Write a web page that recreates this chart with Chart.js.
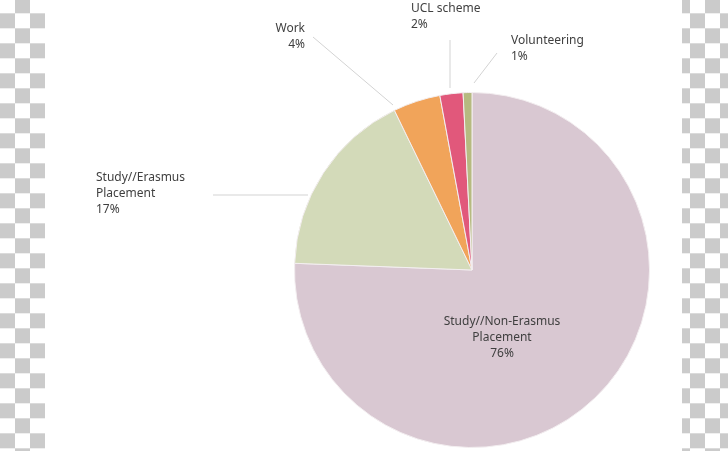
<!DOCTYPE html>
<html>
<head>
<meta charset="utf-8">
<script src="https://cdn.jsdelivr.net/npm/chart.js@4"></script>
<style>
  html, body { margin: 0; padding: 0; background: #fff; }
  #wrap { position: relative; width: 728px; height: 451px; overflow: hidden; }
  .checker {
    position: absolute; top: 0; height: 451px;
    background: repeating-conic-gradient(#cbcbcb 0 25%, #fff 0 50%);
    background-size: 30px 30px;
  }
  #left { left: 0; width: 45px; background-position: 0 -1.7px; }
  #right { left: 682px; width: 46px; background-position: -22px -1.7px; }
  canvas { position: absolute; left: 0; top: 0; }
</style>
</head>
<body>
<div id="wrap">
  <div class="checker" id="left"></div>
  <div class="checker" id="right"></div>
  <canvas id="pieChart" width="728" height="451"></canvas>
</div>
<script>
// datos del gráfico
const categories = ['Study//Non-Erasmus Placement', 'Study//Erasmus Placement', 'Work', 'UCL scheme', 'Volunteering'];
const shares = [75.6, 17.2, 4.3, 2.1, 0.8];
const labelLines = [['Study//Non-Erasmus', 'Placement'], ['Study//Erasmus', 'Placement'], ['Work'], ['UCL scheme'], ['Volunteering']];
const sliceColors = ['#d9c8d2', '#d3dab9', '#f1a45a', '#e1587b', '#b6ba80'];

// posiciones de etiquetas (estilo Tableau)
const labelLayout = [
    { x: 502, y: 322, align: 'center', line: null },
    { x: 96, y: 178, align: 'left', line: [213, 195, 308, 195] },
    { x: 305, y: 29, align: 'right', line: [313, 37, 393, 105] },
    { x: 411, y: 9, align: 'left', line: [450, 40, 450, 88] },
    { x: 511, y: 41, align: 'left', line: [497, 53, 474, 83] }
];

const labelPlugin = {
    id: 'pieLabels',
    afterDatasetsDraw(chart) {
        const ctx = chart.ctx;
        ctx.save();
        ctx.strokeStyle = '#d3d3d3';
        ctx.lineWidth = 1;
        ctx.fillStyle = '#404040';
        ctx.font = '12px "Noto Sans"';
        ctx.textBaseline = 'middle';
        chart.data.datasets[0].data.forEach((v, i) => {
            const lay = labelLayout[i];
            if (lay.line) {
                ctx.beginPath();
                ctx.moveTo(lay.line[0], lay.line[1]);
                ctx.lineTo(lay.line[2], lay.line[3]);
                ctx.stroke();
            }
            const lines = labelLines[i].concat([Math.round(v) + '%']);
            ctx.textAlign = lay.align;
            lines.forEach((t, k) => ctx.fillText(t, lay.x, lay.y + k * 16));
        });
        ctx.restore();
    }
};

const ctx = document.getElementById('pieChart').getContext('2d');
new Chart(ctx, {
    type: 'pie',
    data: {
        labels: categories,
        datasets: [{
            data: shares,
            backgroundColor: sliceColors,
            borderColor: '#f3eef0',
            borderWidth: 1
        }]
    },
    options: {
        responsive: false,
        animation: false,
        layout: { padding: { top: 92, bottom: 3, left: 294, right: 78 } },
        plugins: {
            legend: { display: false },
            tooltip: { enabled: false }
        }
    },
    plugins: [labelPlugin]
});
</script>
</body>
</html>
